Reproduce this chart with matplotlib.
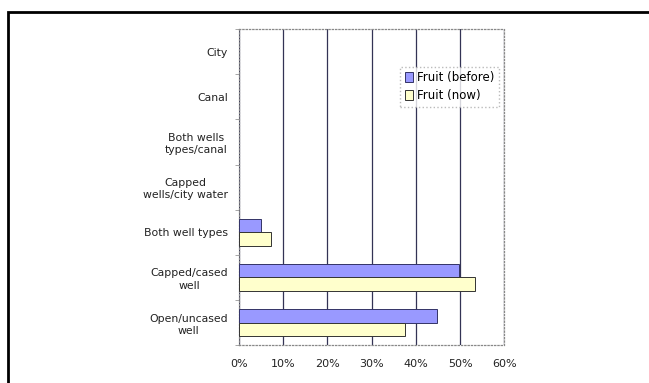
import numpy as np
import matplotlib.pyplot as plt
from matplotlib.patches import Rectangle
from matplotlib.ticker import PercentFormatter

categories = ['Open/uncased\nwell', 'Capped/cased\nwell', 'Both well types',
              'Capped\nwells/city water', 'Both wells\ntypes/canal', 'Canal', 'City']
before = [44.8, 49.7, 4.9, 0, 0, 0, 0]
now = [37.5, 53.3, 7.2, 0, 0, 0, 0]
xticks = [0, 10, 20, 30, 40, 50, 60]

fig = plt.figure(figsize=(6.49, 3.83), dpi=100)
ax = fig.add_axes([0.368, 0.099, 0.409, 0.825])

y = np.arange(len(categories))
h = 0.3
# empty categories get no bar outline
lw_before = [0.7 if v > 0 else 0 for v in before]
lw_now = [0.7 if v > 0 else 0 for v in now]
ax.barh(y + h/2, before, height=h, color='#9999ff', edgecolor='#333366', linewidth=lw_before,
        label='Fruit (before)', zorder=3)
ax.barh(y - h/2, now, height=h, color='#ffffcc', edgecolor='#333333', linewidth=lw_now,
        label='Fruit (now)', zorder=3)

ax.set_xlim(0, 60)
ax.set_ylim(-0.5, len(categories) - 0.5)
ax.set_xticks(xticks)
ax.xaxis.set_major_formatter(PercentFormatter(decimals=0))
ax.set_yticks(y)
ax.set_yticklabels(categories, fontsize=7.8, color='#222222', linespacing=1.3,
                   multialignment='center')
ax.set_yticks(np.arange(-0.5, len(categories), 1), minor=True)
ax.tick_params(axis='y', which='major', length=0, pad=8)
ax.tick_params(axis='y', which='minor', length=3, color='#999999')
ax.tick_params(axis='x', length=0, pad=10, labelsize=8, labelcolor='#222222')
ax.grid(axis='x', color='#333355', linewidth=0.9, zorder=0)
for s in ax.spines.values():
    s.set_color('#888888')
    s.set_linestyle(':')
    s.set_linewidth(0.9)

leg = ax.legend(loc='upper right', bbox_to_anchor=(0.985, 0.885), fontsize=8.5,
                frameon=True, fancybox=False, handlelength=0.7, handleheight=0.9,
                handletextpad=0.3, borderpad=0.4, labelspacing=0.4, borderaxespad=0.1)
leg.legend_handles[0].set_linewidth(0.7)
leg.legend_handles[1].set_linewidth(0.7)
leg.get_frame().set_edgecolor('#aaaaaa')
leg.get_frame().set_linestyle(':')

# outer frame
fig.patches.append(Rectangle((8/649, -0.05), 1.1, 1 - 12/383 + 0.05, transform=fig.transFigure,
                             fill=False, edgecolor='black', linewidth=2))

fig.savefig('out.png', dpi=100)
